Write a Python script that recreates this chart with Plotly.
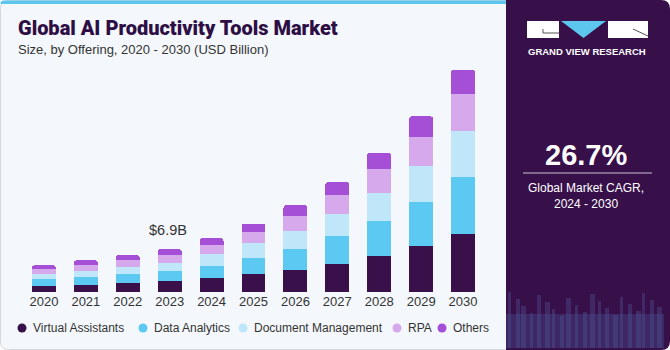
import plotly.graph_objects as go

years = ["2020", "2021", "2022", "2023", "2024", "2025", "2026", "2027", "2028", "2029", "2030"]
virtual_assistants = [1.02, 1.18, 1.50, 1.78, 2.22, 2.96, 3.61, 4.58, 5.87, 7.44, 9.39]
data_analytics = [1.08, 1.29, 1.46, 1.57, 2.04, 2.54, 3.40, 4.42, 5.55, 7.12, 9.22]
document_management = [0.76, 0.97, 1.08, 1.39, 1.84, 2.36, 2.91, 3.62, 4.64, 5.83, 7.44]
rpa = [0.86, 0.92, 1.13, 1.25, 1.50, 1.89, 2.43, 3.01, 3.77, 4.69, 5.99]
others = [0.60, 0.76, 0.81, 0.92, 1.13, 1.29, 1.73, 2.17, 2.70, 3.35, 3.95]

series_names = ["Virtual Assistants", "Data Analytics", "Document Management", "RPA", "Others"]
series_values = [virtual_assistants, data_analytics, document_management, rpa, others]
colors = ["#3a104a", "#5bc9f1", "#bfe7f9", "#d5a9ec", "#a54fd6"]

highlight_year = "2023"
highlight_label = "$6.9B"

W, H = 670, 350
ML, MR, MT, MB = 23, 186, 60, 58
PW, PH = W - ML - MR, H - MT - MB


def px(x):
    return (x - ML) / PW


def py(y):
    return (H - MB - y) / PH


def rrect(x0, y0, x1, y1, rtl=0, rtr=0, rbr=0, rbl=0):
    p = []
    p.append(f"M {px(x0 + rtl)},{py(y0)}")
    p.append(f"L {px(x1 - rtr)},{py(y0)}")
    if rtr:
        p.append(f"Q {px(x1)},{py(y0)} {px(x1)},{py(y0 + rtr)}")
    p.append(f"L {px(x1)},{py(y1 - rbr)}")
    if rbr:
        p.append(f"Q {px(x1)},{py(y1)} {px(x1 - rbr)},{py(y1)}")
    p.append(f"L {px(x0 + rbl)},{py(y1)}")
    if rbl:
        p.append(f"Q {px(x0)},{py(y1)} {px(x0)},{py(y1 - rbl)}")
    p.append(f"L {px(x0)},{py(y0 + rtl)}")
    if rtl:
        p.append(f"Q {px(x0)},{py(y0)} {px(x0 + rtl)},{py(y0)}")
    p.append("Z")
    return " ".join(p)


fig = go.Figure()

for name, vals, col in zip(series_names, series_values, colors):
    fig.add_trace(go.Bar(
        x=years, y=vals, name=name, marker=dict(color=col, line=dict(width=0)),
        showlegend=False, hoverinfo="skip",
    ))

shapes = []
shapes.append(dict(type="path", xref="paper", yref="paper", layer="below",
                   path=rrect(0.5, 0.5, 520, 349.5, rtl=8, rbl=8),
                   fillcolor="#f4f8fc", line=dict(color="#d3d8de", width=1)))
shapes.append(dict(type="path", xref="paper", yref="paper", layer="below",
                   path=rrect(0.5, 0.5, 520, 4, rtl=3),
                   fillcolor="#5cc6ee", line=dict(width=0)))
shapes.append(dict(type="path", xref="paper", yref="paper", layer="below",
                   path=rrect(506, 0, 670, 350, rtr=9, rbr=9),
                   fillcolor="#37104a", line=dict(width=0)))
pattern_cols = [508, 516, 521, 530, 537, 545, 552, 560, 566, 575, 583, 590, 598, 605, 613, 620, 628, 636, 642, 650, 657]
for i, xc in enumerate(pattern_cols):
    top = 292 + (i * 7) % 25
    shapes.append(dict(type="rect", xref="paper", yref="paper", layer="below",
                       x0=px(xc), x1=px(xc + 3 + (i % 3)), y0=py(top), y1=py(348),
                       fillcolor="rgba(100,130,200,0.22)", line=dict(width=0)))
shapes.append(dict(type="rect", xref="paper", yref="paper", layer="below",
                   x0=px(506), x1=px(664), y0=py(314), y1=py(348),
                   fillcolor="rgba(80,100,170,0.28)", line=dict(width=0)))
# logo
shapes.append(dict(type="rect", xref="paper", yref="paper", x0=px(527), x1=px(559), y0=py(21), y1=py(38),
                   fillcolor="white", line=dict(width=0)))
shapes.append(dict(type="path", xref="paper", yref="paper",
                   path=f"M {px(561)},{py(21)} L {px(606)},{py(21)} L {px(583.5)},{py(38)} Z",
                   fillcolor="#5cc6ee", line=dict(width=0)))
shapes.append(dict(type="rect", xref="paper", yref="paper", x0=px(608), x1=px(648), y0=py(21), y1=py(38),
                   fillcolor="white", line=dict(width=0)))
shapes.append(dict(type="path", xref="paper", yref="paper",
                   path=f"M {px(543)},{py(29)} L {px(543)},{py(33)} L {px(559)},{py(33)}",
                   line=dict(color="#555", width=1)))
shapes.append(dict(type="path", xref="paper", yref="paper",
                   path=f"M {px(633)},{py(29)} L {px(648)},{py(36)}",
                   line=dict(color="#555", width=1)))
shapes.append(dict(type="line", xref="paper", yref="paper", x0=px(523), x1=px(652), y0=py(173), y1=py(173),
                   line=dict(color="#c9c2d0", width=1)))

annotations = [
    dict(x=px(16), y=py(28), xref="paper", yref="paper", xanchor="left", yanchor="middle",
         text="Global AI Productivity Tools Market", showarrow=False,
         font=dict(family="Roboto", size=20, color="#2e0f45", weight=900)),
    dict(x=px(16), y=py(49), xref="paper", yref="paper", xanchor="left", yanchor="middle",
         text="Size, by Offering, 2020 - 2030 (USD Billion)", showarrow=False,
         font=dict(family="Liberation Sans", size=13, color="#333333")),
    dict(x=px(587), y=py(51), xref="paper", yref="paper", xanchor="center", yanchor="middle",
         text="<b>GRAND VIEW RESEARCH</b>", showarrow=False,
         font=dict(family="Liberation Sans", size=9.5, color="white")),
    dict(x=px(586), y=py(155), xref="paper", yref="paper", xanchor="center", yanchor="middle",
         text="<b>26.7%</b>", showarrow=False,
         font=dict(family="Liberation Sans", size=29, color="white")),
    dict(x=px(586), y=py(188), xref="paper", yref="paper", xanchor="center", yanchor="middle",
         text="Global Market CAGR,", showarrow=False,
         font=dict(family="Liberation Sans", size=12, color="white")),
    dict(x=px(586), y=py(204), xref="paper", yref="paper", xanchor="center", yanchor="middle",
         text="2024 - 2030", showarrow=False,
         font=dict(family="Liberation Sans", size=12, color="white")),
]
hi = years.index(highlight_year)
total_hi = sum(v[hi] for v in series_values)
annotations.append(dict(x=hi, y=total_hi, xref="x", yref="y", xanchor="center", yanchor="bottom",
                        yshift=9, xshift=-2, text=highlight_label, showarrow=False,
                        font=dict(family="Liberation Sans", size=14.5, color="#333333")))

# manual legend (circle markers + labels)
legend_marker_x = [22, 143, 243, 397, 442]
legend_y = 328
for name, col, mx in zip(series_names, colors, legend_marker_x):
    shapes.append(dict(type="circle", xref="paper", yref="paper",
                       x0=px(mx - 4.5), x1=px(mx + 4.5), y0=py(legend_y - 4.5), y1=py(legend_y + 4.5),
                       fillcolor=col, line=dict(width=0)))
    annotations.append(dict(x=px(mx + 9), y=py(legend_y), xref="paper", yref="paper",
                            xanchor="left", yanchor="middle", text=name, showarrow=False,
                            font=dict(family="Liberation Sans", size=12, color="#333333")))

fig.update_layout(
    width=W, height=H, autosize=False,
    margin=dict(l=ML, r=MR, t=MT, b=MB, pad=0),
    paper_bgcolor="white", plot_bgcolor="rgba(0,0,0,0)",
    barmode="stack", bargap=0.43, barcornerradius=3,
    shapes=shapes, annotations=annotations,
    xaxis=dict(type="category", categoryorder="array", categoryarray=years, range=[-0.5, 10.5],
               showgrid=False, zeroline=False, showline=False, ticks="",
               tickfont=dict(family="Liberation Sans", size=13, color="#333333")),
    yaxis=dict(range=[0, PH / 6.18], visible=False, showgrid=False, zeroline=False),
    showlegend=False,
)

fig.write_html("out.html")
